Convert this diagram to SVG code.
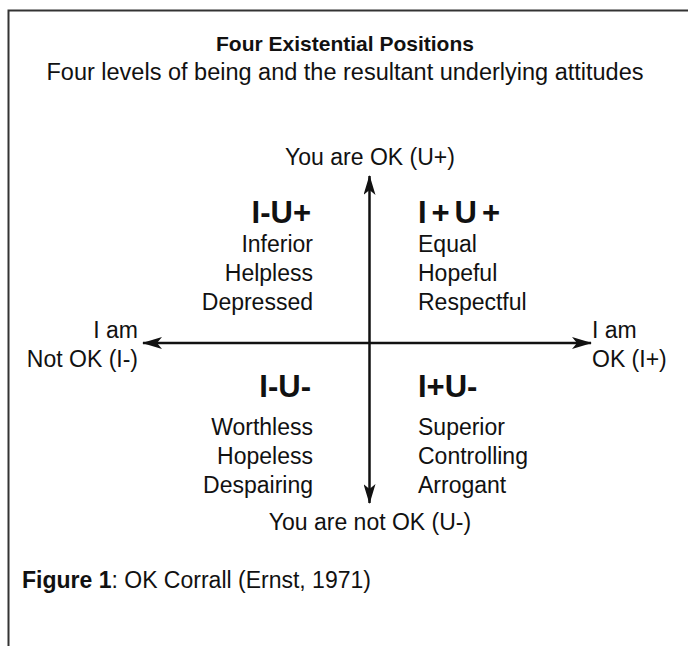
<svg xmlns="http://www.w3.org/2000/svg" width="688" height="646" viewBox="0 0 688 646">
  <style>
    text { font-family: "Liberation Sans", Arial, Helvetica, sans-serif; fill: #111; }
    .title { font-size: 21px; font-weight: bold; }
    .sub { font-size: 23.5px; }
    .lbl { font-size: 23px; }
    .quad { font-size: 31px; font-weight: bold; }
    .axis { stroke: #111; stroke-width: 2.5; fill: none; }
    .frame { stroke: #333; stroke-width: 2; fill: none; }
  </style>
  <defs>
    <marker id="arrow" viewBox="0 0 20 12" refX="19" refY="6" markerWidth="20" markerHeight="12" markerUnits="userSpaceOnUse" orient="auto-start-reverse">
      <path d="M0,0 L20,6 L0,12 L5,6 Z" fill="#111"/>
    </marker>
  </defs>

  <rect width="688" height="646" fill="#fff"/>
  <path class="frame" d="M8.5,646 V10.5 H688"/>

  <g id="heading">
    <text class="title" x="345" y="51" text-anchor="middle">Four Existential Positions</text>
    <text class="sub" x="345" y="80" text-anchor="middle">Four levels of being and the resultant underlying attitudes</text>
  </g>

  <g id="connectors">
    <line class="axis" x1="369.5" y1="176" x2="369.5" y2="503" marker-start="url(#arrow)" marker-end="url(#arrow)"/>
    <line class="axis" x1="143" y1="343" x2="591" y2="343" marker-start="url(#arrow)" marker-end="url(#arrow)"/>
  </g>

  <g id="axis-you-ok">
    <text class="lbl" x="370" y="165" text-anchor="middle">You are OK (U+)</text>
  </g>
  <g id="axis-you-not-ok">
    <text class="lbl" x="370" y="530" text-anchor="middle">You are not OK (U-)</text>
  </g>
  <g id="axis-i-not-ok">
    <text class="lbl" x="138" y="338" text-anchor="end">I am</text>
    <text class="lbl" x="138" y="367" text-anchor="end">Not OK (I-)</text>
  </g>
  <g id="axis-i-ok">
    <text class="lbl" x="592" y="338">I am</text>
    <text class="lbl" x="592" y="367">OK (I+)</text>
  </g>

  <g id="quad-i-minus-u-plus" text-anchor="end">
    <text class="quad" x="311" y="223">I-U+</text>
    <text class="lbl" x="313" y="252">Inferior</text>
    <text class="lbl" x="313" y="281">Helpless</text>
    <text class="lbl" x="313" y="310">Depressed</text>
  </g>
  <g id="quad-i-plus-u-plus">
    <text class="quad" x="418" y="223" textLength="82" lengthAdjust="spacing">I+U+</text>
    <text class="lbl" x="418" y="252">Equal</text>
    <text class="lbl" x="418" y="281">Hopeful</text>
    <text class="lbl" x="418" y="310">Respectful</text>
  </g>
  <g id="quad-i-minus-u-minus" text-anchor="end">
    <text class="quad" x="311" y="397">I-U-</text>
    <text class="lbl" x="313" y="435">Worthless</text>
    <text class="lbl" x="313" y="464">Hopeless</text>
    <text class="lbl" x="313" y="493">Despairing</text>
  </g>
  <g id="quad-i-plus-u-minus">
    <text class="quad" x="418" y="397">I+U-</text>
    <text class="lbl" x="418" y="435">Superior</text>
    <text class="lbl" x="418" y="464">Controlling</text>
    <text class="lbl" x="418" y="493">Arrogant</text>
  </g>

  <g id="caption">
    <text class="lbl" x="22" y="588"><tspan font-weight="bold">Figure 1</tspan>: OK Corrall (Ernst, 1971)</text>
  </g>
</svg>
